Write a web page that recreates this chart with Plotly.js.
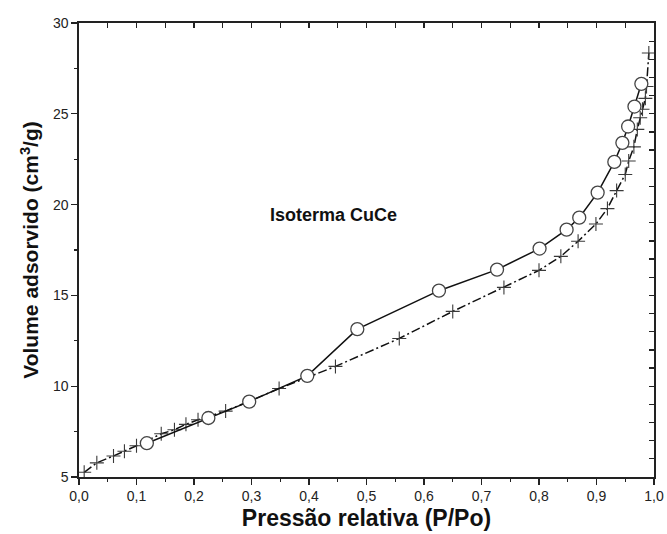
<!DOCTYPE html>
<html>
<head>
<meta charset="utf-8">
<script src="https://cdn.plot.ly/plotly-3.0.1.min.js"></script>
<style>html,body{margin:0;padding:0;background:#fff;}#chart{width:667px;height:534px;}</style>
</head>
<body>
<div id="chart"></div>
<script>
// Adsorption branch (crosses, dash-dot line)
const adsX = [0.009, 0.031, 0.060, 0.079, 0.100, 0.143, 0.166, 0.186, 0.207, 0.255, 0.348, 0.446, 0.557, 0.650, 0.739, 0.800, 0.838, 0.868, 0.899, 0.919, 0.935, 0.950, 0.956, 0.965, 0.971, 0.976, 0.980, 0.985, 0.987, 0.991];
const adsY = [5.26, 5.78, 6.16, 6.42, 6.72, 7.38, 7.60, 7.90, 8.15, 8.63, 9.87, 11.09, 12.63, 14.12, 15.44, 16.38, 17.15, 17.98, 18.93, 19.78, 20.77, 21.66, 22.40, 23.18, 24.14, 24.78, 25.25, 25.85, 26.50, 28.35];
// Desorption branch (open circles, solid line)
const desX = [0.118, 0.225, 0.296, 0.397, 0.484, 0.626, 0.727, 0.801, 0.848, 0.870, 0.902, 0.931, 0.945, 0.955, 0.966, 0.978];
const desY = [6.86, 8.25, 9.15, 10.57, 13.14, 15.26, 16.42, 17.58, 18.62, 19.28, 20.66, 22.35, 23.40, 24.30, 25.40, 26.65];

const xTickVals = [0, 0.1, 0.2, 0.3, 0.4, 0.5, 0.6, 0.7, 0.8, 0.9, 1.0];
const xTickText = ['0,0', '0,1', '0,2', '0,3', '0,4', '0,5', '0,6', '0,7', '0,8', '0,9', '1,0'];
const yTickVals = [5, 10, 15, 20, 25, 30];

const xTitle = 'Pressão relativa (P/Po)';
const yTitle = 'Volume adsorvido (cm<sup>3</sup>/g)';
const chartLabel = 'Isoterma CuCe';

const font = 'Liberation Sans, Arial, sans-serif';

const traces = [
  {
    x: adsX, y: adsY, type: 'scatter', mode: 'lines+markers',
    line: {color: '#111', width: 1.5, dash: '9px,3px,2px,3px'},
    marker: {symbol: 'cross-thin', size: 10, line: {color: '#3a3a3a', width: 1.1}},
    showlegend: false, hoverinfo: 'skip'
  },
  {
    x: desX, y: desY, type: 'scatter', mode: 'lines+markers',
    line: {color: '#111', width: 1.5},
    marker: {symbol: 'circle', size: 13, color: '#fff', line: {color: '#444', width: 1.3}},
    showlegend: false, hoverinfo: 'skip'
  },
  {
    x: [0.5], y: [10], xaxis: 'x2', yaxis: 'y2', type: 'scatter', mode: 'markers',
    marker: {opacity: 0}, showlegend: false, hoverinfo: 'skip'
  }
];

const layout = {
  width: 667, height: 534,
  margin: {l: 79, r: 13, t: 23, b: 57},
  paper_bgcolor: '#fff', plot_bgcolor: '#fff',
  font: {family: font, color: '#222', size: 15},
  showlegend: false,
  xaxis: {
    range: [0, 1], tickmode: 'array', tickvals: xTickVals, ticktext: xTickText,
    ticklabeloverflow: 'allow',
    ticks: 'outside', ticklen: 6, tickwidth: 1.3, tickcolor: '#222',
    minor: {tickmode: 'linear', tick0: 0, dtick: 0.05, ticks: 'outside', ticklen: 3, tickwidth: 1.3, tickcolor: '#222', showgrid: false},
    showline: true, linecolor: '#222', linewidth: 1.6,
    showgrid: false, zeroline: false,
    tickfont: {family: font, size: 14, color: '#222'},
    title: {text: xTitle, font: {family: font, size: 23, color: '#111', weight: 'bold'}, standoff: 6}
  },
  yaxis: {
    range: [5, 30], tickmode: 'array', tickvals: yTickVals,
    ticks: 'outside', ticklen: 6, tickwidth: 1.3, tickcolor: '#222',
    minor: {tickmode: 'linear', tick0: 5, dtick: 2.5, ticks: 'outside', ticklen: 3, tickwidth: 1.3, tickcolor: '#222', showgrid: false},
    showline: true, linecolor: '#222', linewidth: 1.6,
    showgrid: false, zeroline: false,
    tickfont: {family: font, size: 14, color: '#222'},
    title: {text: yTitle, font: {family: font, size: 21, color: '#111', weight: 'bold'}, standoff: 8}
  },
  xaxis2: {
    overlaying: 'x', side: 'top', range: [0, 1], tick0: 0, dtick: 0.05,
    ticks: 'inside', ticklen: 5, tickwidth: 1.3, tickcolor: '#222',
    showticklabels: false, showline: true, linecolor: '#222', linewidth: 1.6,
    showgrid: false, zeroline: false
  },
  yaxis2: {
    overlaying: 'y', side: 'right', range: [5, 30], tick0: 5, dtick: 1,
    ticks: 'inside', ticklen: 5, tickwidth: 1.3, tickcolor: '#222',
    showticklabels: false, showline: true, linecolor: '#222', linewidth: 1.6,
    showgrid: false, zeroline: false
  },
  annotations: [{
    x: 0.442, y: 19.45, xref: 'x', yref: 'y', text: chartLabel, showarrow: false,
    font: {family: font, size: 18, color: '#111', weight: 'bold'}
  }]
};

Plotly.newPlot('chart', traces, layout, {staticPlot: true, displayModeBar: false});
</script>
</body>
</html>
